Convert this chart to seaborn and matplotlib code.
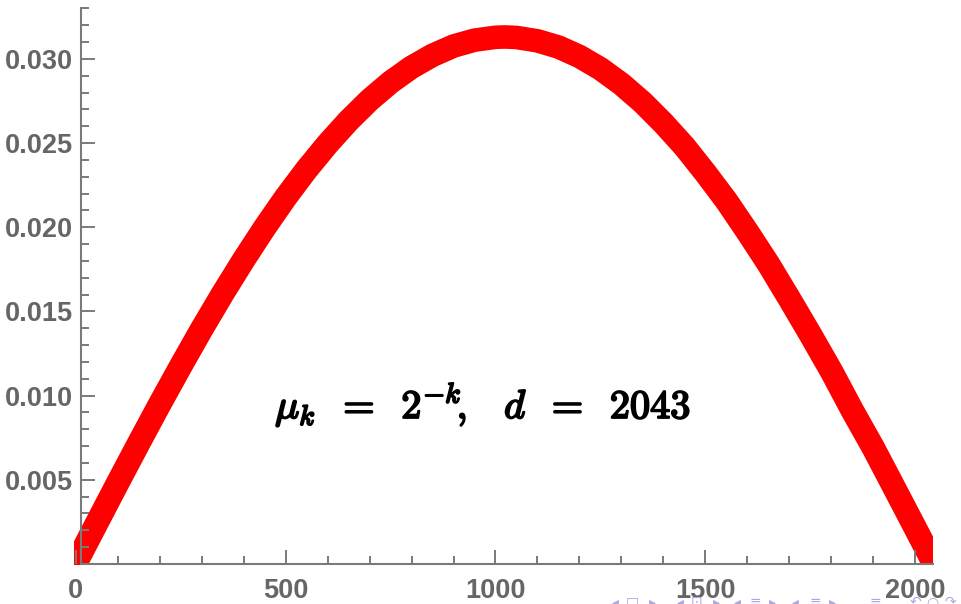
import matplotlib
matplotlib.use("Agg")
import matplotlib.pyplot as plt
import matplotlib.patheffects as pe
from matplotlib.ticker import MultipleLocator, FixedLocator, FuncFormatter
import seaborn as sns

# Sampled curve values (index k, weight)
k_vals = [1, 50, 100, 150, 200, 250, 300, 350, 400, 450, 500, 550, 600,
          650, 700, 750, 800, 850, 900, 950, 1000, 1022, 1050, 1100, 1150,
          1200, 1250, 1300, 1350, 1400, 1450, 1500, 1550, 1600, 1650, 1700,
          1750, 1800, 1850, 1900, 1950, 2000, 2020, 2043]
weights = [0.00005, 0.00240, 0.00479, 0.00715, 0.00947, 0.01173, 0.01393,
           0.01604, 0.01805, 0.01996, 0.02176, 0.02342, 0.02494, 0.02632,
           0.02755, 0.02861, 0.02950, 0.03021, 0.03076, 0.03111, 0.03128,
           0.03130, 0.03127, 0.03107, 0.03070, 0.03014, 0.02941, 0.02850,
           0.02742, 0.02617, 0.02479, 0.02322, 0.02156, 0.01972, 0.01781,
           0.01574, 0.01362, 0.01144, 0.00910, 0.00688, 0.00450, 0.00211,
           0.00115, 0.00005]

x_major = [0, 500, 1000, 1500, 2000]
y_major = [0.005, 0.010, 0.015, 0.020, 0.025, 0.030]
annotation = (r"$\mu_k\;\;=\;\;\mathbf{2}^{-k}\!,\;\;\;d\;\;=\;\;"
              r"\mathbf{2043}$")

sns.set_style("white")
plt.rcParams["font.family"] = ["Liberation Sans", "DejaVu Sans"]
plt.rcParams["mathtext.fontset"] = "cm"

W, H = 961, 604
fig = plt.figure(figsize=(W / 100, H / 100), dpi=100)
ax = fig.add_axes([74 / W, 1 - 565 / H, (933 - 74) / W, (565 - 8) / H])

sns.lineplot(x=k_vals, y=weights, ax=ax, color="#ff0000", linewidth=17,
             solid_capstyle="round", solid_joinstyle="round", sort=False)

ax.set_xlim(-3.6, 2041.7)
ax.set_ylim(-0.00006, 0.03302)

axis_grey = "#7a7a7a"
label_grey = "#666666"
for side in ("top", "right"):
    ax.spines[side].set_visible(False)
ax.spines["left"].set_position(("data", 13))
ax.spines["left"].set_bounds(0, 0.0330)
ax.spines["bottom"].set_position(("data", 0))
ax.spines["bottom"].set_bounds(13, 2041.7)
for side in ("left", "bottom"):
    ax.spines[side].set_color(axis_grey)
    ax.spines[side].set_linewidth(1.5)
    ax.spines[side].set_zorder(5)
ax.set_axisbelow(False)

ax.xaxis.set_major_locator(FixedLocator(x_major))
ax.xaxis.set_minor_locator(MultipleLocator(100))
ax.yaxis.set_major_locator(FixedLocator(y_major))
ax.yaxis.set_minor_locator(MultipleLocator(0.001))
ax.xaxis.set_major_formatter(FuncFormatter(lambda v, p: f"{v:.0f}"))
ax.yaxis.set_major_formatter(FuncFormatter(lambda v, p: f"{v:.3f}"))

ax.tick_params(which="both", direction="in", color=axis_grey, width=1.4,
               bottom=True, left=True)
ax.tick_params(which="major", length=10)
ax.tick_params(which="minor", length=6)
ax.tick_params(axis="x", which="major", pad=10, labelsize=19.5,
               labelcolor=label_grey)
ax.tick_params(axis="y", which="major", pad=6, labelsize=19.5,
               labelcolor=label_grey)
for lab in ax.get_xticklabels() + ax.get_yticklabels():
    lab.set_fontweight("bold")

# formula label, emboldened with a thin outline
ax.text(970, 0.00867, annotation, ha="center", va="baseline",
        fontsize=29, color="black",
        path_effects=[pe.withStroke(linewidth=1.4, foreground="black")])

# navigation symbols along the bottom edge
nav_color = "#a9a9de"
nav = [(615, "◂"), (632, "□"), (652, "▸"), (680, "◂"), (697, "⊡"),
       (716, "▸"), (737, "◂"), (755, "≡"), (772, "▸"), (795, "◂"),
       (815, "≡"), (832, "▸"), (875, "≡"), (915, "↶"), (932, "○"),
       (950, "↷")]
for px, sym in nav:
    fig.text(px / W, 1 - 606 / H, sym, ha="center", va="baseline",
             fontsize=10, color=nav_color, family=["DejaVu Sans"])

fig.savefig("out.png", dpi=100)
